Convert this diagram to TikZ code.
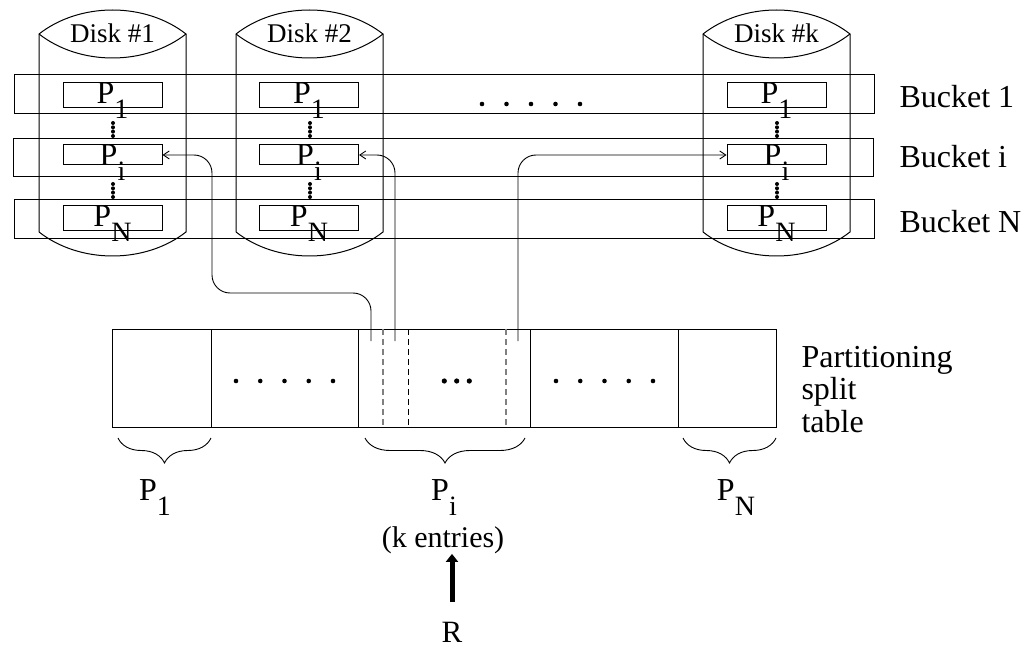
\documentclass[tikz,border=0pt]{standalone}
\usepackage{fontspec}
\setmainfont{Liberation Serif}
\usetikzlibrary{arrows.meta, positioning, decorations.pathreplacing}

\newcommand{\subfnt}{\fontsize{28}{28}\selectfont}
\newcommand{\Psub}[1]{P\raisebox{-15pt}{\subfnt #1}}

\begin{document}
\begin{tikzpicture}[
    x=1pt, y=-1pt,
    line width=1pt,
    bucket/.style={draw, minimum width=860pt, minimum height=39pt, inner sep=0pt},
    pbox/.style={draw, minimum width=99pt, inner sep=0pt},
    plab/.style={anchor=north, inner sep=0pt, font=\fontsize{32}{34}\selectfont},
    disklab/.style={anchor=base, inner sep=0pt, font=\fontsize{27}{29}\selectfont},
    lbl/.style={anchor=base west, inner sep=0pt, font=\fontsize{32}{32.5}\selectfont, align=left},
    cell/.style={draw, anchor=north west, minimum height=98pt, inner sep=0pt},
    link/.style={-{Straight Barb[length=6pt,width=8pt]}, line width=0.9pt, rounded corners=18pt},
    split/.style={dash pattern=on 6pt off 4pt},
    brc/.style={decorate, decoration={brace, mirror, amplitude=25pt}, line width=0.9pt},
    bigarrow/.style={-{Triangle[length=8pt,width=12pt]}, line width=5pt}
  ]
    \fill[white] (0,0) rectangle (1026,647);

    % buckets
    \node[bucket] (b1) at (444,94.5) {};
    \node[bucket, minimum height=38pt] (bi) at (443,158) {};
    \node[bucket] (bn) at (444,219.5) {};
    \node[lbl] (b1lab) at (899,108) {Bucket 1};
    \node[lbl] (bilab) at (899,168) {Bucket i};
    \node[lbl] (bnlab) at (899,233) {Bucket N};

    % disks
    \draw (39,232) -- (39,34) .. controls (80,2) and (145,2) .. (186,34) -- (186,232)
          .. controls (145,264) and (80,264) .. (39,232);
    \draw (39,34) .. controls (80,66) and (145,66) .. (186,34);
    \draw (236,232) -- (236,34) .. controls (277,2) and (342,2) .. (383,34) -- (383,232)
          .. controls (342,264) and (277,264) .. (236,232);
    \draw (236,34) .. controls (277,66) and (342,66) .. (383,34);
    \draw (703,232) -- (703,34) .. controls (744,2) and (809,2) .. (850,34) -- (850,232)
          .. controls (809,264) and (744,264) .. (703,232);
    \draw (703,34) .. controls (744,66) and (809,66) .. (850,34);

    \node[disklab] (d1lab) at (112.5,43) {Disk \#1};
    \node[disklab] (d2lab) at (309.5,43) {Disk \#2};
    \node[disklab] (dklab) at (776.5,43) {Disk \#k};

    % partitions on each disk
    \node[pbox, minimum height=25pt] (d1p1) at (112.5,95.5) {};
    \node[pbox, minimum height=20pt] (d1pi) at (112.5,155) {};
    \node[pbox, minimum height=25pt] (d1pn) at (112.5,218.5) {};
    \node[pbox, minimum height=25pt] (d2p1) at (309,95.5) {};
    \node[pbox, minimum height=20pt] (d2pi) at (309,155) {};
    \node[pbox, minimum height=25pt] (d2pn) at (309,218.5) {};
    \node[pbox, minimum height=25pt] (dkp1) at (776.5,95.5) {};
    \node[pbox, minimum height=20pt] (dkpi) at (776.5,155) {};
    \node[pbox, minimum height=25pt] (dkpn) at (776.5,218.5) {};

    \node[plab] (l1p1) at (d1p1.north) {\Psub{1}};
    \node[plab] (l1pi) at (d1pi.north) {\Psub{i}};
    \node[plab] (l1pn) at (d1pn.north) {\Psub{N}};
    \node[plab] (l2p1) at (d2p1.north) {\Psub{1}};
    \node[plab] (l2pi) at (d2pi.north) {\Psub{i}};
    \node[plab] (l2pn) at (d2pn.north) {\Psub{N}};
    \node[plab] (lkp1) at (dkp1.north) {\Psub{1}};
    \node[plab] (lkpi) at (dkpi.north) {\Psub{i}};
    \node[plab] (lkpn) at (dkpn.north) {\Psub{N}};

    % dots
    \fill (113,123) circle (2pt) (113,127.3) circle (2pt) (113,131.6) circle (2pt) (113,136) circle (2pt)
          (113,184) circle (2pt) (113,188.3) circle (2pt) (113,192.6) circle (2pt) (113,197) circle (2pt);
    \fill (310,123) circle (2pt) (310,127.3) circle (2pt) (310,131.6) circle (2pt) (310,136) circle (2pt)
          (310,184) circle (2pt) (310,188.3) circle (2pt) (310,192.6) circle (2pt) (310,197) circle (2pt);
    \fill (777,123) circle (2pt) (777,127.3) circle (2pt) (777,131.6) circle (2pt) (777,136) circle (2pt)
          (777,184) circle (2pt) (777,188.3) circle (2pt) (777,192.6) circle (2pt) (777,197) circle (2pt);
    \fill (482,104) circle (2.3pt) (506.5,104) circle (2.3pt) (531,104) circle (2.3pt)
          (555.5,104) circle (2.3pt) (580,104) circle (2.3pt);

    % split table
    \node[cell, minimum width=99pt]  (c1) at (112,329) {};
    \node[cell, minimum width=147pt] (c2) at (211,329) {};
    \node[cell, minimum width=172pt] (c3) at (358,329) {};
    \node[cell, minimum width=148pt] (c4) at (530,329) {};
    \node[cell, minimum width=98pt]  (c5) at (678,329) {};
    \draw[split, gray, line width=1.2pt] (383,329) -- (383,427);
    \draw[split, line width=0.8pt] (408,329) -- (408,427);
    \draw[split, gray, line width=1.2pt] (506,329) -- (506,427);
    \fill (236,381) circle (2.3pt) (260.25,381) circle (2.3pt) (284.5,381) circle (2.3pt)
          (308.75,381) circle (2.3pt) (333,381) circle (2.3pt);
    \fill (556,381) circle (2.3pt) (580.25,381) circle (2.3pt) (604.5,381) circle (2.3pt)
          (628.75,381) circle (2.3pt) (653,381) circle (2.3pt);
    \fill (444.3,381) circle (2.6pt) (456.7,381) circle (2.6pt) (469.3,381) circle (2.6pt);
    \node[lbl, anchor=north west] (tlab) at (801,345.5) {Partitioning\\split\\table};

    % pointers to the disks
    \coordinate (s1) at (371,341);
    \coordinate (s2) at (395,341);
    \coordinate (s3) at (518,341);
    \draw[link] (s1) |- (212,293) |- (d1pi.east);
    \draw[link] (s2) |- (d2pi.east);
    \draw[link] (s3) |- (dkpi.west);

    % braces
    \draw[brc] (118,438) -- (211,438);
    \draw[brc] (365,438) -- (525,438);
    \draw[brc] (683,438) -- (776,438);
    \node[plab] (q1) at (155,479) {\Psub{1}};
    \node[plab] (qi) at (444,479) {\Psub{i}};
    \node[plab] (qn) at (736,479) {\Psub{N}};
    \node[disklab, font=\fontsize{30}{32}\selectfont] (kent) at (443,547) {(k entries)};
    \node[disklab, font=\fontsize{31}{32}\selectfont] (rlab) at (452,642) {R};
    \draw[bigarrow] ([yshift=19pt]rlab.north) -- (rlab.north |- kent.south);
\end{tikzpicture}
\end{document}
